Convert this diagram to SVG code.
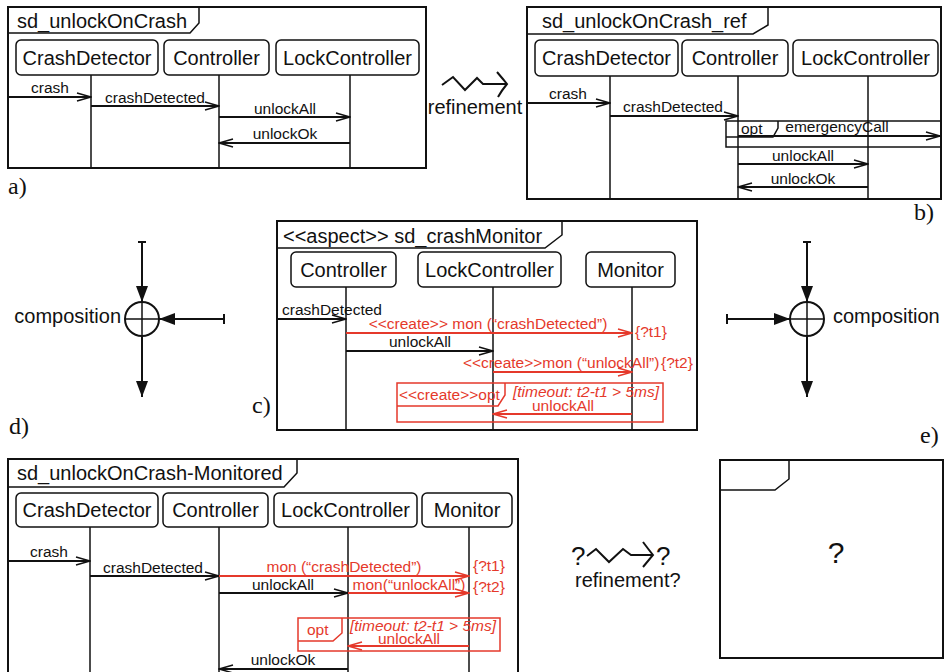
<svg xmlns="http://www.w3.org/2000/svg" width="944" height="672" viewBox="0 0 944 672">
  <style>
    text { font-family: "Liberation Sans", Arial, sans-serif; fill: #111; }
    .big { font-size: 20px; }
    .lbl { font-size: 15.5px; }
    .mid { text-anchor: middle; }
    .red { fill: #e5392b; }
    .it { font-style: italic; }
    .cap { font-family: "Liberation Serif", "Times New Roman", serif; font-size: 24px; }
    .frame { fill: none; stroke: #111; stroke-width: 2; }
    .tab { fill: none; stroke: #111; stroke-width: 1.5; }
    .head { fill: #fff; stroke: #111; stroke-width: 1.5; }
    .life { stroke: #111; stroke-width: 1.5; fill: none; }
    .msg { stroke: #111; stroke-width: 2; fill: none; marker-end: url(#arr); }
    .rmsg { stroke: #e5392b; stroke-width: 2; fill: none; marker-end: url(#arrR); }
    .rbox { fill: none; stroke: #e5392b; stroke-width: 1.5; }
    .ln { stroke: #111; stroke-width: 2; fill: none; }
    .flow { stroke: #111; stroke-width: 2; fill: none; marker-end: url(#tri); }
  </style>
  <defs>
    <marker id="arr" viewBox="0 0 16 10" refX="15" refY="5" markerWidth="16" markerHeight="10" markerUnits="userSpaceOnUse" orient="auto">
      <path d="M1,1 L15,5 L1,9" fill="none" stroke="#111" stroke-width="1.5"/>
    </marker>
    <marker id="arrR" viewBox="0 0 16 10" refX="15" refY="5" markerWidth="16" markerHeight="10" markerUnits="userSpaceOnUse" orient="auto">
      <path d="M1,1 L15,5 L1,9" fill="none" stroke="#e5392b" stroke-width="1.5"/>
    </marker>
    <marker id="tri" viewBox="0 0 16 12" refX="16" refY="6" markerWidth="16" markerHeight="12" markerUnits="userSpaceOnUse" orient="auto">
      <path d="M0,0 L16,6 L0,12 Z" fill="#111"/>
    </marker>
  </defs>

  <!-- a) sd_unlockOnCrash -->
  <g id="sd_unlockOnCrash">
    <rect class="frame" x="8" y="7" width="418" height="161"/>
    <path class="tab" d="M8,33 H190 L199,23 V7"/>
    <text class="big" x="17" y="28">sd_unlockOnCrash</text>
    <g id="a_CrashDetector">
      <rect class="head" x="16" y="40" width="142" height="35" rx="5"/>
      <text class="big mid" x="87" y="65">CrashDetector</text>
      <line class="life" x1="91" y1="75" x2="91" y2="168"/>
    </g>
    <g id="a_Controller">
      <rect class="head" x="164" y="40" width="105" height="35" rx="5"/>
      <text class="big mid" x="216.5" y="65">Controller</text>
      <line class="life" x1="219" y1="75" x2="219" y2="168"/>
    </g>
    <g id="a_LockController">
      <rect class="head" x="276" y="40" width="143" height="35" rx="5"/>
      <text class="big mid" x="347.5" y="65">LockController</text>
      <line class="life" x1="350" y1="75" x2="350" y2="168"/>
    </g>
    <g id="a_messages">
      <line class="msg" x1="8" y1="97" x2="91" y2="97"/>
      <text class="lbl mid" x="50" y="93">crash</text>
      <line class="msg" x1="91" y1="106" x2="219" y2="106"/>
      <text class="lbl mid" x="155" y="103">crashDetected</text>
      <line class="msg" x1="219" y1="117" x2="350" y2="117"/>
      <text class="lbl mid" x="285" y="114">unlockAll</text>
      <line class="msg" x1="350" y1="143" x2="219" y2="143"/>
      <text class="lbl mid" x="285" y="139">unlockOk</text>
    </g>
  </g>
  <text class="cap" x="8" y="194">a)</text>

  <!-- refinement a) to b) -->
  <g id="refinement">
    <path class="ln" d="M442,85 L453,77 L465,90 L477,78 L483,84 L506,84"/>
    <path class="ln" d="M497,72 Q503,79 507,84 Q502,90 498,97"/>
    <text class="big mid" x="475" y="114">refinement</text>
  </g>

  <!-- b) sd_unlockOnCrash_ref -->
  <g id="sd_unlockOnCrash_ref">
    <rect class="frame" x="527" y="7" width="414" height="192"/>
    <path class="tab" d="M527,34 H753 L768,25 V7"/>
    <text class="big" x="542" y="28">sd_unlockOnCrash_ref</text>
    <g id="b_CrashDetector">
      <rect class="head" x="535" y="40" width="143" height="36" rx="5"/>
      <text class="big mid" x="606.5" y="65">CrashDetector</text>
      <line class="life" x1="610" y1="76" x2="610" y2="199"/>
    </g>
    <g id="b_Controller">
      <rect class="head" x="682" y="40" width="106" height="36" rx="5"/>
      <text class="big mid" x="735" y="65">Controller</text>
      <line class="life" x1="738" y1="76" x2="738" y2="199"/>
    </g>
    <g id="b_LockController">
      <rect class="head" x="793" y="40" width="145" height="36" rx="5"/>
      <text class="big mid" x="865.5" y="65">LockController</text>
      <line class="life" x1="868" y1="76" x2="868" y2="199"/>
    </g>
    <g id="b_opt">
      <rect class="tab" x="726" y="121" width="215" height="26"/>
      <path class="tab" d="M726,137 H773 L778,128 V121"/>
      <text class="lbl" x="741" y="134">opt</text>
    </g>
    <g id="b_messages">
      <line class="msg" x1="527" y1="103" x2="610" y2="103"/>
      <text class="lbl mid" x="568" y="99">crash</text>
      <line class="msg" x1="610" y1="116" x2="738" y2="116"/>
      <text class="lbl mid" x="673" y="112">crashDetected</text>
      <line class="msg" x1="738" y1="136" x2="940" y2="136"/>
      <text class="lbl mid" x="837" y="132">emergencyCall</text>
      <line class="msg" x1="738" y1="164" x2="868" y2="164"/>
      <text class="lbl mid" x="803" y="161">unlockAll</text>
      <line class="msg" x1="868" y1="187" x2="738" y2="187"/>
      <text class="lbl mid" x="803" y="184">unlockOk</text>
    </g>
  </g>
  <text class="cap" x="914" y="220">b)</text>

  <!-- c) aspect sd_crashMonitor -->
  <g id="sd_crashMonitor">
    <rect class="frame" x="277" y="221" width="420" height="209"/>
    <path class="tab" d="M277,248 H545 L562,235 V221"/>
    <text class="big" x="283" y="243">&lt;&lt;aspect&gt;&gt; sd_crashMonitor</text>
    <g id="c_Controller">
      <rect class="head" x="291" y="252" width="105" height="35" rx="5"/>
      <text class="big mid" x="343.5" y="277">Controller</text>
      <line class="life" x1="346" y1="287" x2="346" y2="430"/>
    </g>
    <g id="c_LockController">
      <rect class="head" x="418" y="252" width="143" height="35" rx="5"/>
      <text class="big mid" x="489.5" y="277">LockController</text>
      <line class="life" x1="493" y1="287" x2="493" y2="430"/>
    </g>
    <g id="c_Monitor">
      <rect class="head" x="586" y="252" width="89" height="35" rx="5"/>
      <text class="big mid" x="630.5" y="277">Monitor</text>
      <line class="life" x1="632" y1="287" x2="632" y2="430"/>
    </g>
    <g id="c_opt">
      <rect class="rbox" x="397" y="383" width="266" height="39"/>
      <path class="rbox" d="M397,406 H498 L505,395 V383"/>
      <text class="lbl red" x="399" y="400">&lt;&lt;create&gt;&gt;opt</text>
      <text class="lbl red it" x="513" y="397">[timeout: t2-t1 &gt; 5ms]</text>
    </g>
    <g id="c_messages">
      <line class="msg" x1="277" y1="319" x2="346" y2="319"/>
      <text class="lbl" x="282" y="315">crashDetected</text>
      <line class="rmsg" x1="346" y1="333" x2="632" y2="333"/>
      <text class="lbl mid red" x="488" y="329">&lt;&lt;create&gt;&gt; mon (“crashDetected”)</text>
      <text class="lbl red" x="635" y="337">{?t1}</text>
      <line class="msg" x1="346" y1="351" x2="493" y2="351"/>
      <text class="lbl mid" x="420" y="347">unlockAll</text>
      <line class="rmsg" x1="493" y1="372" x2="632" y2="372"/>
      <text class="lbl red" x="463" y="368">&lt;&lt;create&gt;&gt;mon (“unlockAll”)</text>
      <text class="lbl red" x="661" y="368">{?t2}</text>
      <line class="rmsg" x1="632" y1="414" x2="493" y2="414"/>
      <text class="lbl mid red" x="563" y="411">unlockAll</text>
    </g>
  </g>
  <text class="cap" x="252" y="413">c)</text>

  <!-- d) composition -->
  <g id="composition_d">
    <circle class="ln" cx="142" cy="319" r="17" stroke-width="1.5"/>
    <path class="life" d="M125,319 H159 M142,302 V336"/>
    <path class="flow" d="M142,242 V302"/>
    <path class="ln" d="M138,242 H146 M224,314 V324"/>
    <path class="flow" d="M224,319 H159"/>
    <path class="flow" d="M142,336 V397"/>
    <text class="big" x="121" y="323" text-anchor="end">composition</text>
  </g>
  <text class="cap" x="9" y="434">d)</text>

  <!-- e) composition -->
  <g id="composition_e">
    <circle class="ln" cx="807" cy="319" r="17" stroke-width="1.5"/>
    <path class="life" d="M790,319 H824 M807,302 V336"/>
    <path class="flow" d="M807,242 V302"/>
    <path class="ln" d="M803,242 H811 M727,314 V324"/>
    <path class="flow" d="M727,319 H790"/>
    <path class="flow" d="M807,336 V397"/>
    <text class="big" x="833" y="323">composition</text>
  </g>
  <text class="cap" x="920" y="443">e)</text>

  <!-- sd_unlockOnCrash-Monitored -->
  <g id="sd_unlockOnCrash-Monitored">
    <path class="frame" d="M8,673 V459 H518 V673"/>
    <path class="tab" d="M8,487 H284 L297,473 V459"/>
    <text class="big" x="17" y="480">sd_unlockOnCrash-Monitored</text>
    <g id="m_CrashDetector">
      <rect class="head" x="16" y="493" width="142" height="34" rx="5"/>
      <text class="big mid" x="87" y="517">CrashDetector</text>
      <line class="life" x1="90" y1="527" x2="90" y2="672"/>
    </g>
    <g id="m_Controller">
      <rect class="head" x="163" y="493" width="105" height="34" rx="5"/>
      <text class="big mid" x="215.5" y="517">Controller</text>
      <line class="life" x1="219" y1="527" x2="219" y2="672"/>
    </g>
    <g id="m_LockController">
      <rect class="head" x="274" y="493" width="143" height="34" rx="5"/>
      <text class="big mid" x="345.5" y="517">LockController</text>
      <line class="life" x1="348" y1="527" x2="348" y2="672"/>
    </g>
    <g id="m_Monitor">
      <rect class="head" x="422" y="493" width="90" height="34" rx="5"/>
      <text class="big mid" x="467" y="517">Monitor</text>
      <line class="life" x1="469" y1="527" x2="469" y2="672"/>
    </g>
    <g id="m_opt">
      <rect class="rbox" x="298" y="618" width="202" height="33"/>
      <path class="rbox" d="M298,641 H333 L342,633 V618"/>
      <text class="lbl red" x="307" y="635">opt</text>
      <text class="lbl red it" x="350" y="631">[timeout: t2-t1 &gt; 5ms]</text>
    </g>
    <g id="m_messages">
      <line class="msg" x1="8" y1="561" x2="90" y2="561"/>
      <text class="lbl mid" x="49" y="557">crash</text>
      <line class="msg" x1="90" y1="576" x2="219" y2="576"/>
      <text class="lbl mid" x="153" y="573">crashDetected</text>
      <line class="rmsg" x1="219" y1="576" x2="469" y2="576"/>
      <text class="lbl mid red" x="344" y="572">mon (“crashDetected”)</text>
      <text class="lbl red" x="473" y="571">{?t1}</text>
      <line class="msg" x1="219" y1="593" x2="348" y2="593"/>
      <text class="lbl mid" x="283" y="590">unlockAll</text>
      <line class="rmsg" x1="348" y1="593" x2="469" y2="593"/>
      <text class="lbl mid red" x="409" y="590">mon(“unlockAll”)</text>
      <text class="lbl red" x="473" y="592">{?t2}</text>
      <line class="rmsg" x1="469" y1="646" x2="348" y2="646"/>
      <text class="lbl mid red" x="409" y="644">unlockAll</text>
      <line class="msg" x1="348" y1="669" x2="219" y2="669"/>
      <text class="lbl mid" x="283" y="665">unlockOk</text>
    </g>
  </g>

  <!-- open refinement question -->
  <g id="refinement_unknown">
    <text x="571" y="565" font-size="26">?</text>
    <path class="ln" d="M587,556 L596,549 L609,562 L623,549 L631,555 L653,555"/>
    <path class="ln" d="M643,542 Q649,550 653,555 Q648,561 643,567"/>
    <text x="656" y="565" font-size="26">?</text>
    <text class="big" x="575" y="587">refinement?</text>
  </g>

  <!-- unknown result diagram -->
  <g id="sd_unknown">
    <rect class="frame" x="720" y="460" width="223" height="198"/>
    <path class="tab" d="M720,490 H775 L789,479 V460"/>
    <text class="mid" x="836" y="563" font-size="30">?</text>
  </g>
</svg>
